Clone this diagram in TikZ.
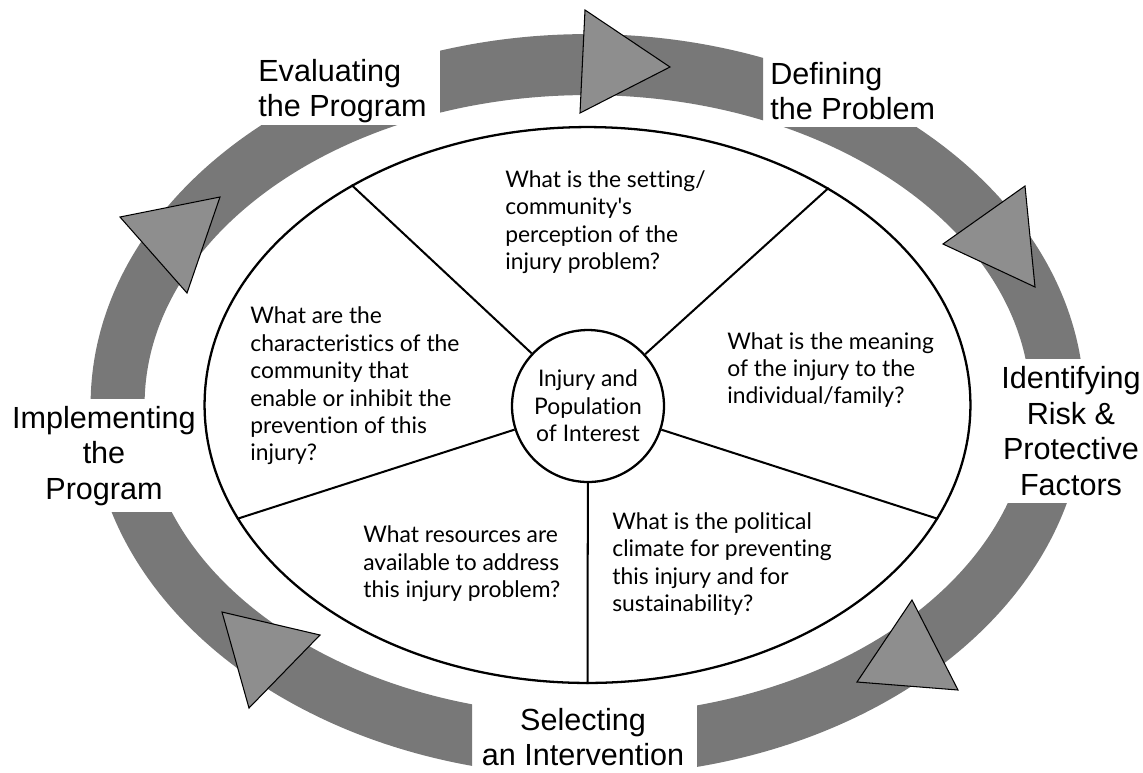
\documentclass[tikz,border=0pt]{standalone}
\usepackage{fontspec}
\setmainfont{Lato}[Ligatures={TeXOff,NoCommon}]
\newfontfamily\arialf{Liberation Sans}
\usetikzlibrary{shapes.geometric}
\definecolor{bandgrey}{HTML}{787878}
\definecolor{trigrey}{HTML}{8E8E8E}
\begin{document}
\begin{tikzpicture}[x=0.02cm,y=-0.02cm,
  band/.style={fill=bandgrey},
  tri/.style={fill=trigrey,draw=black,line width=0.6pt,line join=miter},
  cyc/.style={font=\arialf\fontsize{17.4}{20.3}\selectfont,inner sep=0pt},
  quest/.style={font=\fontsize{13}{15.6}\selectfont,align=left,inner sep=0pt,anchor=west},
  spoke/.style={line width=1.15pt}]
\useasboundingbox (0,0) rectangle (1143,772);
% cycle band, cut into five segments
\foreach \a/\b/\c/\d in {440/0/763/250, 763/127/1143/358, 697/503/1143/772, 0/512/472/772, 0/125/440/398}{
  \begin{scope}
    \clip (\a,\b) rectangle (\c,\d);
    \fill[band,even odd rule] (587.5,405) ellipse [x radius=9.94cm,y radius=7.42cm]
                              (587.5,405) ellipse [x radius=8.86cm,y radius=6.2cm];
  \end{scope}
}
% arrow triangles
\filldraw[tri] (585,10) -- (580,113) -- (670,67) -- cycle;
\filldraw[tri] (1025,186) -- (943,244) -- (1035,287) -- cycle;
\filldraw[tri] (912,600) -- (857,682) -- (958,690) -- cycle;
\filldraw[tri] (222,612) -- (320,635) -- (249,708) -- cycle;
\filldraw[tri] (120,217) -- (220,197) -- (187,293) -- cycle;
% central oval and hub
\node[ellipse,draw,line width=1.3pt,minimum width=15.32cm,minimum height=11.12cm,inner sep=0pt] (oval) at (587.5,405) {};
\node[circle,draw,line width=1.3pt,minimum size=3.04cm,inner sep=0pt,align=center,
      font=\fontsize{13}{15.6}\selectfont] (hub) at (588,406) {Injury and\\Population\\of Interest};
\draw[spoke] (hub) -- (oval.137.6);
\draw[spoke] (hub) -- (oval.42.5);
\draw[spoke] (hub) -- (oval.-18);
\draw[spoke] (hub) -- (oval.198);
\draw[spoke] (hub) -- (oval.270);
% questions
\node[quest] (q1) at (505,222) {What is the setting/\\community's\\perception of the\\injury problem?};
\node[quest] (q2) at (727,370) {What is the meaning\\of the injury to the\\individual/family?};
\node[quest] (q3) at (250,386) {What are the\\characteristics of the\\community that\\enable or inhibit the\\prevention of this\\injury?};
\node[quest] (q4) at (363,564) {What resources are\\available to address\\this injury problem?};
\node[quest] (q5) at (612,564) {What is the political\\climate for preventing\\this injury and for\\sustainability?};
% cycle labels
\node[cyc,align=left,anchor=west] (evaluate) at (258,91) {Evaluating\\the Program};
\node[cyc,align=left,anchor=west] (define) at (770,91) {Defining\\the Problem};
\node[cyc,align=center] (identify) at (1071,431) {Identifying\\Risk \&\\Protective\\Factors};
\node[cyc,align=center] (implement) at (104,456) {Implementing\\the\\Program};
\node[cyc,align=center] (select) at (583,737) {Selecting\\an Intervention};
\end{tikzpicture}
\end{document}
